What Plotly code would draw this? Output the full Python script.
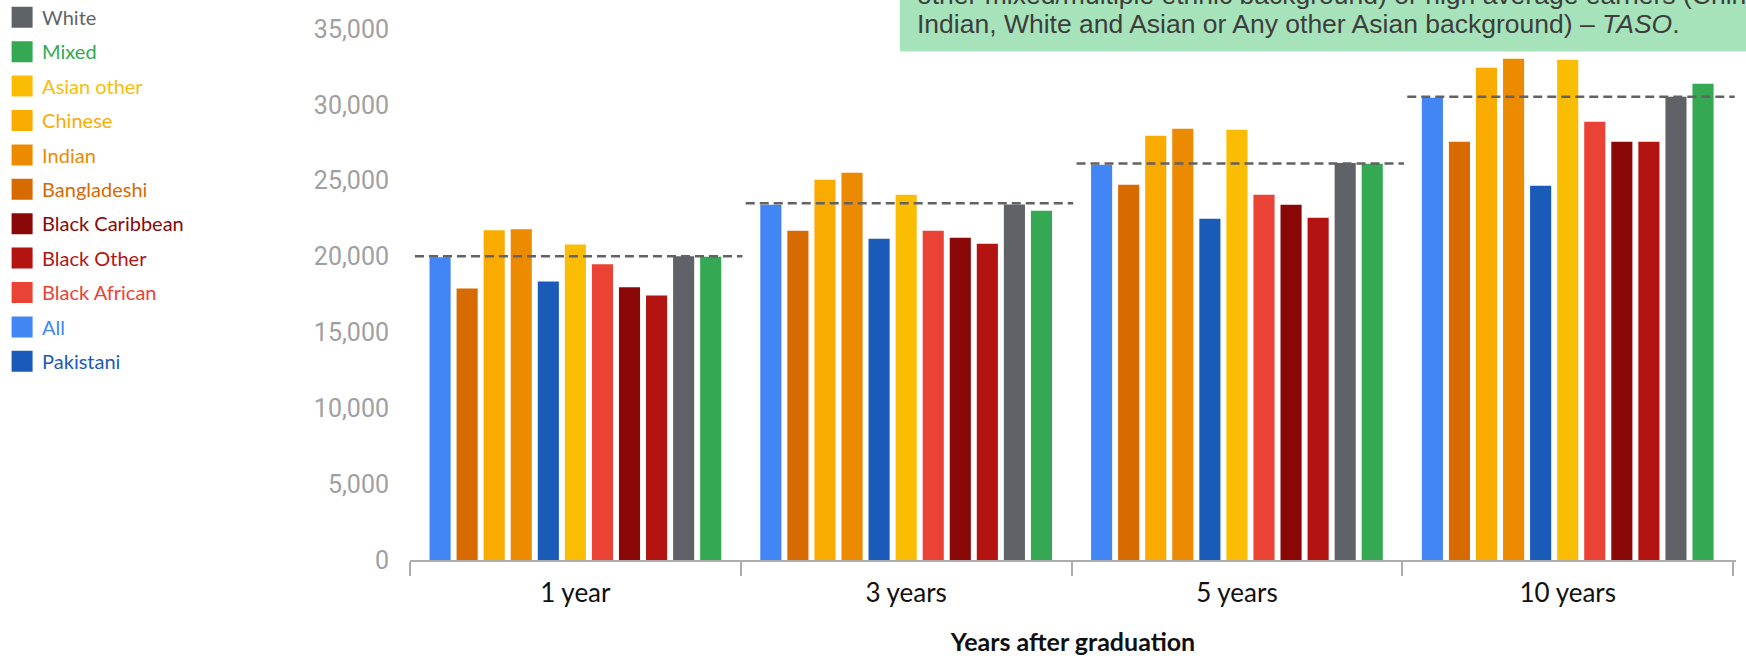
import plotly.graph_objects as go

# Median earnings by ethnicity, by years after graduation
years = ["1 year", "3 years", "5 years", "10 years"]

all_grads = [19960, 23410, 26050, 30470]
bangladeshi = [17900, 21700, 24730, 27570]
chinese = [21730, 25060, 27960, 32450]
indian = [21800, 25520, 28430, 33040]
pakistani = [18360, 21170, 22490, 24670]
asian_other = [20800, 24070, 28360, 32980]
black_african = [19490, 21700, 24070, 28890]
black_caribbean = [17970, 21240, 23410, 27570]
black_other = [17440, 20840, 22560, 27570]
white = [20020, 23440, 26160, 30540]
mixed = [19980, 23020, 26120, 31390]

# overall average, drawn as a dashed reference across each group
average = [20020, 23510, 26140, 30540]

# bar order inside each group
series = [
    ("All", all_grads, "#4285F4"),
    ("Bangladeshi", bangladeshi, "#D76A00"),
    ("Chinese", chinese, "#F9AB00"),
    ("Indian", indian, "#EC8B00"),
    ("Pakistani", pakistani, "#1A5BBA"),
    ("Asian other", asian_other, "#FBBC04"),
    ("Black African", black_african, "#EA4335"),
    ("Black Caribbean", black_caribbean, "#8B0808"),
    ("Black Other", black_other, "#B31412"),
    ("White", white, "#5F6368"),
    ("Mixed", mixed, "#34A853"),
]

# legend listing order
legend_order = ["White", "Mixed", "Asian other", "Chinese", "Indian", "Bangladeshi",
                "Black Caribbean", "Black Other", "Black African", "All", "Pakistani"]

fig = go.Figure()

for name, vals, color in series:
    fig.add_trace(go.Bar(x=years, y=vals, name=name, marker_color=color,
                         marker_line_width=0, showlegend=False))

colors = {n: c for n, _, c in series}
for name in legend_order:
    c = colors[name]
    fig.add_trace(go.Scatter(
        x=[None], y=[None], mode="markers", legendgroup=name,
        name=f"<span style='color:{c}'>{name}</span>",
        marker=dict(symbol="square", size=16, color=c, line=dict(color=c, width=5)),
    ))

for i, avg in enumerate(average):
    fig.add_shape(type="line", xref="x", yref="y", x0=i - 0.485, x1=i + 0.505,
                  y0=avg, y1=avg, line=dict(color="#626262", width=2.5, dash="9px,5px"))

# callout box at the top right
fig.add_shape(type="rect", xref="paper", yref="paper", x0=0.3695, x1=1.2,
              y0=0.9575, y1=1.2, fillcolor="#A7E3BA", line_width=0, layer="below")
box_font = dict(family="Liberation Sans, Arial", size=26.5, color="#3D3D3D")
fig.add_annotation(xref="paper", yref="paper", x=0.3805, y=1.064, xanchor="left",
                   yanchor="middle", showarrow=False, align="left", font=box_font,
                   text="other mixed/multiple ethnic background) or high average earners (Chinese,")
fig.add_annotation(xref="paper", yref="paper", x=0.3805, y=1.009, xanchor="left",
                   yanchor="middle", showarrow=False, align="left", font=box_font,
                   text="Indian, White and Asian or Any other Asian background) – <i>TASO</i>.")

fig.update_layout(
    width=1746, height=656,
    margin=dict(l=410, r=10, t=29, b=96, autoexpand=False),
    paper_bgcolor="white", plot_bgcolor="white",
    barmode="group", bargap=0.1, bargroupgap=0.22,
    legend=dict(xref="container", yref="paper", x=0.0012, y=1.0588, xanchor="left",
                yanchor="top", font=dict(family="Lato", size=20),
                tracegroupgap=5.4, maxheight=620, bgcolor="rgba(0,0,0,0)"),
    xaxis=dict(type="category", categoryorder="array", categoryarray=years,
               automargin=False,
               showline=True, linecolor="#ADADAD", linewidth=2,
               ticks="outside", tickson="boundaries", ticklen=14, tickwidth=2,
               tickcolor="#ADADAD", showgrid=False, ticklabelstandoff=9,
               tickfont=dict(family="Lato", size=26, color="#111111"),
               title=dict(text="<b>Years after graduation</b>", standoff=28,
                          font=dict(family="Lato", size=25, color="#111111"))),
    yaxis=dict(range=[0, 35000], dtick=5000, tickformat=",", showgrid=False,
               automargin=False,
               zeroline=False, showline=False, ticks="", ticklabelstandoff=20,
               tickfont=dict(family="Roboto", size=25, color="#A0A0A0")),
)

fig.write_html("out.html")
